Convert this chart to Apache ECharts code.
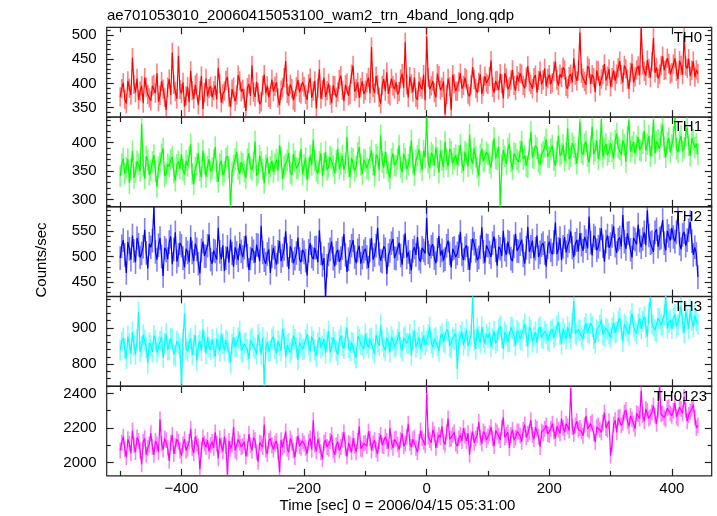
<!DOCTYPE html>
<html>
<head>
<meta charset="utf-8">
<script src="https://cdn.jsdelivr.net/npm/echarts@6/dist/echarts.min.js"></script>
<style>
html,body{margin:0;padding:0;background:#fff;}
#chart{width:717px;height:516px;}
</style>
</head>
<body>
<div id="chart"></div>
<script>
// ---- data (counts/sec, one value every 2.5 s starting at t = -500 s) ----
const T_START = -500;
const T_STEP = 2.5;

const th0 = [
372,389,401,367,358,405,390,376,453,398,381,410,366,384,395,359,412,392,377,370,
364,395,398,380,421,362,375,404,388,371,345,392,409,376,464,398,383,368,457,387,
379,402,352,374,393,361,426,385,368,397,401,356,385,415,347,381,410,373,389,394,
371,385,396,367,432,399,360,378,384,406,413,372,351,388,392,363,376,417,405,383,
388,369,343,391,399,374,437,382,372,403,381,357,362,396,418,380,395,371,367,408,
383,394,402,370,355,386,391,412,446,379,374,398,389,365,361,393,407,381,378,403,
393,377,366,399,411,370,384,405,348,390,429,368,387,412,372,385,400,376,359,396,
395,371,382,408,416,386,363,397,401,374,377,419,437,383,389,402,370,391,404,378,
386,401,412,379,475,392,380,415,397,371,358,396,409,384,423,378,374,410,395,388,
402,377,383,409,420,391,485,397,371,414,399,382,412,371,366,403,393,388,418,365,
497,412,388,395,405,381,371,420,416,386,392,404,336,377,410,393,345,418,399,384,
384,403,421,389,396,412,409,378,373,397,433,408,390,381,402,419,378,394,415,401,
398,414,447,392,381,405,406,386,420,399,369,421,411,388,393,407,428,396,385,416,
404,421,419,396,390,413,436,403,398,389,412,417,381,406,425,398,407,431,394,410,
418,398,401,425,445,407,396,419,412,433,428,394,389,414,419,402,452,417,405,426,
505,421,411,404,397,436,431,399,418,412,382,427,426,395,409,418,440,406,415,430,
393,412,427,405,419,432,446,418,402,437,430,409,388,423,441,402,414,428,436,417,
516,438,425,416,448,431,412,445,494,422,433,410,419,437,456,427,428,452,441,419,
422,440,452,425,409,447,437,418,500,436,431,451,415,427,446,413,428,420
];
const th1 = [
341,362,372,345,356,371,329,353,385,338,348,367,362,350,433,359,337,376,369,343,
351,366,378,349,322,357,364,379,390,341,346,362,358,370,375,347,333,361,367,354,
380,352,344,368,359,374,397,345,327,356,362,381,351,339,386,363,340,358,371,349,
355,369,392,350,331,362,368,343,349,372,376,357,290,348,360,371,383,354,345,366,
363,349,338,371,381,356,352,365,402,342,347,377,366,353,329,360,374,345,357,368,
348,362,370,351,395,374,336,358,361,369,382,347,343,380,367,355,354,366,389,344,
360,373,334,355,377,361,405,368,350,346,366,381,341,363,384,352,357,375,372,359,
346,368,389,354,363,377,352,364,410,358,339,373,371,350,358,382,392,361,345,370,
368,355,352,374,386,362,341,379,375,351,413,366,356,384,364,349,337,371,381,360,
359,371,395,357,348,380,372,353,361,375,404,364,343,369,377,388,366,352,386,374,
445,365,355,382,378,360,391,374,347,386,369,357,402,371,358,389,384,363,372,378,
361,377,396,365,350,384,381,358,414,372,363,390,375,356,342,379,389,367,368,383,
379,364,356,385,408,372,371,393,290,360,387,376,362,389,398,367,353,381,380,370,
366,385,402,371,377,359,357,388,419,374,372,395,390,366,361,380,384,392,406,375,
374,388,395,369,359,384,412,377,381,396,368,382,425,371,376,399,392,380,363,391,
437,383,379,397,402,376,365,392,428,380,386,404,371,387,441,375,390,398,378,385,
399,385,372,403,416,391,388,378,404,396,366,410,439,384,393,401,381,394,410,387,
385,399,421,386,397,412,376,394,440,381,402,405,389,415,431,392,374,400,408,383,
396,410,443,389,383,402,412,385,391,413,426,395,377,408,405,391,398,380
];
const th2 = [
497,520,532,503,468,528,515,494,541,511,489,536,523,498,506,519,552,507,477,525,
518,531,597,509,494,522,536,500,462,517,512,495,528,539,485,514,547,490,503,526,
521,497,479,515,508,489,538,508,491,525,514,486,467,512,529,501,500,521,543,494,
486,512,510,494,556,509,495,522,472,497,519,488,533,506,480,518,507,493,525,510,
499,517,541,502,474,496,516,510,488,523,522,491,560,508,493,486,505,514,468,500,
517,498,484,509,530,491,502,515,549,503,476,520,511,487,496,507,537,495,489,513,
508,492,463,511,526,500,495,517,518,489,551,506,483,497,422,482,504,514,529,496,
481,507,513,490,497,516,544,503,470,495,509,521,532,499,487,512,521,486,498,510,
515,499,478,512,536,494,503,521,556,505,492,490,520,514,466,503,511,526,534,497,
496,515,527,502,484,520,545,498,509,489,473,511,518,503,538,496,490,517,512,506,
575,508,501,519,524,497,487,513,540,502,512,492,495,521,531,506,479,515,517,499,
506,520,548,504,493,516,522,497,474,511,535,525,511,493,498,518,557,509,488,522,
521,508,499,526,539,512,482,519,515,501,550,514,503,529,527,496,491,520,544,511,
510,524,533,502,486,517,558,509,519,531,497,515,541,499,508,522,526,507,480,518,
529,512,504,528,566,505,515,536,493,519,538,508,521,530,549,517,499,525,532,510,
545,523,511,538,530,516,578,527,502,541,536,512,519,533,555,520,490,529,541,517,
524,540,559,521,507,533,537,519,581,529,515,545,546,513,498,536,533,524,562,531,
518,534,547,522,590,541,526,528,509,547,553,519,535,537,571,526,512,550,540,531,
556,538,529,547,585,525,514,542,548,521,532,551,567,530,503,518,505,460
];
const th3 = [
838,861,872,843,815,877,856,829,889,852,827,868,944,835,848,881,866,846,803,859,
851,834,879,866,832,848,862,875,818,857,884,839,841,871,869,826,822,863,857,845,
746,868,940,842,835,859,871,826,853,880,810,851,864,837,896,862,829,874,847,840,
868,844,821,870,854,836,883,858,838,866,862,831,805,855,875,847,849,872,891,838,
833,856,859,840,814,867,872,849,843,828,881,862,826,873,745,844,861,835,838,869,
876,843,829,864,852,837,897,871,819,853,858,832,842,879,868,846,812,860,855,841,
841,867,883,851,835,876,864,839,822,858,874,845,850,869,830,862,891,833,846,874,
862,838,826,866,879,851,843,873,901,846,837,860,858,829,817,877,869,855,852,842,
884,857,845,870,871,843,829,881,862,851,908,864,848,838,873,859,834,876,866,848,
851,869,889,846,838,873,876,858,857,882,824,866,893,847,860,875,842,861,879,853,
864,881,902,859,847,870,873,851,836,877,884,862,858,896,890,849,845,873,868,885,
787,862,879,889,853,871,895,850,864,882,987,866,842,898,876,859,903,874,857,883,
872,887,848,870,891,858,865,896,905,874,842,889,880,861,862,902,898,876,851,893,
887,869,866,895,911,878,848,903,894,861,875,888,859,897,903,874,870,891,884,866,
862,891,897,873,878,905,916,882,856,898,885,869,903,887,871,912,975,884,880,896,
893,878,869,901,912,887,884,913,904,871,858,895,890,908,923,882,877,899,896,885,
873,899,914,886,889,917,928,895,863,910,905,891,882,921,940,903,892,884,911,927,
897,918,932,902,876,941,985,911,906,894,889,927,925,908,903,936,990,899,915,922,
898,926,937,904,909,931,962,913,887,945,924,898,950,920,903,935,919,910
];
const th0123 = [
2070,2115,2150,2080,2030,2135,2110,2055,2185,2100,2060,2145,2125,2070,1990,2120,2140,2045,2085,2105,
2170,2090,2045,2125,2105,2060,2250,2110,2075,2140,2130,2085,2010,2115,2160,2050,2095,2135,2120,2070,
2040,2105,2135,2070,2080,2120,2195,2085,2055,2150,2110,2095,1960,2075,2145,2110,2090,2130,2065,2100,
2120,2085,2175,2110,2025,2140,2100,2065,2150,2095,1930,2125,2080,2105,2205,2070,2060,2135,2115,2090,
2095,2120,2035,2080,2165,2100,2070,2145,2130,2060,2005,2115,2110,2090,2220,2075,2050,2125,2140,2100,
2075,2110,2125,2065,1945,2130,2090,2100,2180,2080,2060,2140,2115,2070,2030,2105,2155,2095,2085,2125,
2110,2085,2050,2120,2140,2075,2245,2105,2065,2135,2100,2060,2020,2115,2130,2090,2080,2125,2160,2070,
2045,2100,2120,2070,2090,2130,2175,2085,2035,2115,2105,2060,2140,2095,2060,2125,2210,2080,2075,2110,
2115,2095,2180,2140,2070,2110,2130,2075,2050,2125,2160,2100,2095,2150,2125,2080,2200,2120,2085,2135,
2140,2105,2075,2130,2170,2095,2110,2150,2225,2115,2090,2135,2145,2085,2060,2120,2185,2140,2120,2100,
2400,2150,2130,2115,2190,2165,2085,2130,2160,2145,2210,2120,2105,2175,2255,2135,2140,2160,2175,2110,
2095,2140,2160,2125,2200,2155,2125,2170,2045,2135,2180,2115,2140,2160,2235,2145,2110,2180,2165,2130,
2150,2170,2205,2140,2095,2185,2175,2155,2130,2200,2260,2145,2160,2175,2085,2160,2190,2130,2145,2180,
2180,2155,2120,2190,2220,2145,2165,2175,2245,2160,2135,2205,2195,2150,2090,2180,2170,2195,2215,2165,
2160,2195,2225,2180,2140,2210,2190,2170,2255,2200,2175,2225,2210,2185,2430,2205,2165,2215,2240,2190,
2200,2180,2155,2215,2270,2195,2185,2225,2235,2170,2120,2205,2215,2190,2175,2230,2290,2200,2190,2240,
2040,2110,2220,2245,2175,2260,2265,2215,2230,2290,2305,2240,2210,2270,2250,2225,2195,2285,2280,2255,
2415,2275,2240,2310,2300,2255,2265,2290,2330,2270,2225,2305,2440,2280,2285,2260,2250,2315,2320,2285,
2270,2300,2345,2265,2255,2320,2310,2285,2380,2305,2240,2275,2295,2310,2335,2260,2200,2215
];

// error-bar half lengths per band (counts/sec)
const errTH0 = 20, errTH1 = 19, errTH2 = 23, errTH3 = 29, errTH0123 = 46;

const panelNames = ['TH0','TH1','TH2','TH3','TH0123'];
const panelValues = [th0, th1, th2, th3, th0123];
const panelErrors = [errTH0, errTH1, errTH2, errTH3, errTH0123];

// axis ranges and tick labels
const yRanges = [[330,516],[287,445],[422,597],[739,987],[1923,2443]];
const yMajorTicks = [[350,400,450,500],[300,350,400],[450,500,550],[800,900],[2000,2200,2400]];
const yMinorSteps = [10,10,10,20,100];
const xRange = [-522, 465];
const xMajorTicks = [-400,-200,0,200,400];
const xMinorTicks = [-500,-300,-100,100,300];

const titleText = 'ae701053010_20060415053100_wam2_trn_4band_long.qdp';
const xTitle = 'Time [sec] 0 = 2006/04/15 05:31:00';
const yTitle = 'Counts/sec';

// ---- styles ----
const colors = ['#ff0000','#00ff00','#0000ff','#00ffff','#ff00ff'];
const FONT = '"Liberation Sans", Arial, Helvetica, sans-serif';
const FRAME = '#222';
const gridTops = [27.3, 117.0, 206.7, 296.4, 386.0];
const gridH = 89.9;
const gridLeft = 106.7, gridW = 605;
const labelPos = [[702,37.6],[702,127.2],[702,217],[702,306.8],[707,396.5]];

function minorOf(p){
  const [lo, hi] = yRanges[p];
  const st = yMinorSteps[p];
  const out = [];
  for (let v = Math.ceil(lo/st)*st; v <= hi; v += st){
    if (yMajorTicks[p].indexOf(v) < 0) out.push(v);
  }
  return out;
}
const minus = v => String(v).replace('-', '\u2212');
const plain = v => String(v);

const grids = [], xAxes = [], yAxes = [], series = [], graphics = [];
for (let p = 0; p < 5; p++){
  grids.push({left: gridLeft, width: gridW, top: gridTops[p], height: gridH,
    show: true, borderColor: FRAME, borderWidth: 1.2, backgroundColor: 'transparent', containLabel: false});
  const xDefs = [
    {pos:'bottom', ticks: xMajorTicks, len: 7, label: p === 4},
    {pos:'bottom', ticks: xMinorTicks, len: 5, label: false},
    {pos:'top', ticks: xMajorTicks, len: 7, label: false},
    {pos:'top', ticks: xMinorTicks, len: 5, label: false}
  ];
  xDefs.forEach(d => xAxes.push({
    type: 'value', gridIndex: p, position: d.pos, min: xRange[0], max: xRange[1],
    axisLine: {show: false, onZero: false}, splitLine: {show: false},
    axisTick: {show: true, inside: true, length: d.len, customValues: d.ticks, lineStyle: {color: FRAME, width: 1.2}},
    axisLabel: {show: d.label, customValues: d.ticks, formatter: minus, fontSize: 15, color: '#000', fontFamily: FONT, margin: 5}
  }));
  const minors = minorOf(p);
  const yDefs = [
    {pos:'left', ticks: yMajorTicks[p], len: 7, label: true},
    {pos:'left', ticks: minors, len: 4, label: false},
    {pos:'right', ticks: yMajorTicks[p], len: 7, label: false},
    {pos:'right', ticks: minors, len: 4, label: false}
  ];
  yDefs.forEach(d => yAxes.push({
    type: 'value', gridIndex: p, position: d.pos, min: yRanges[p][0], max: yRanges[p][1],
    axisLine: {show: false, onZero: false}, splitLine: {show: false},
    axisTick: {show: true, inside: true, length: d.len, customValues: d.ticks, lineStyle: {color: FRAME, width: 1.2}},
    axisLabel: {show: d.label, customValues: d.ticks, formatter: plain, fontSize: 15, color: '#000', fontFamily: FONT, margin: 10}
  }));

  const vals = panelValues[p];
  const err = panelErrors[p];
  const lineData = vals.map((v, i) => [T_START + i * T_STEP, v]);
  const errData = vals.map((v, i) => [T_START + i * T_STEP, v, err]);
  series.push({
    type: 'custom', xAxisIndex: p*4, yAxisIndex: p*4, data: errData, silent: true, z: 2,
    renderItem: function(params, api){
      const t = api.value(0), v = api.value(1), e = api.value(2);
      const a = api.coord([t, v - e]);
      const b = api.coord([t, v + e]);
      const cs = params.coordSys;
      const clamp = y => Math.max(cs.y, Math.min(cs.y + cs.height, y));
      return {type: 'line', shape: {x1: a[0], y1: clamp(a[1]), x2: b[0], y2: clamp(b[1])},
        style: {stroke: colors[p], lineWidth: 1.6, opacity: 0.5}};
    }
  });
  series.push({
    type: 'line', xAxisIndex: p*4, yAxisIndex: p*4, data: lineData, showSymbol: false,
    symbol: 'none', lineStyle: {color: colors[p], width: 1.2}, z: 3, clip: true, silent: true
  });
  graphics.push({type: 'text', x: labelPos[p][0], y: labelPos[p][1], z: 100,
    style: {text: panelNames[p], font: '15px ' + FONT, fill: '#000', align: 'right', verticalAlign: 'middle'}});
}

graphics.push({type: 'text', x: 107, y: 15.5, style: {text: titleText, font: '15px ' + FONT, fill: '#000', align: 'left', verticalAlign: 'middle'}});
graphics.push({type: 'text', x: 397.5, y: 506, style: {text: xTitle, font: '15px ' + FONT, fill: '#000', align: 'center', verticalAlign: 'middle'}});
graphics.push({type: 'text', x: 41.7, y: 260, rotation: Math.PI/2, style: {text: yTitle, font: '15px ' + FONT, fill: '#000', align: 'center', verticalAlign: 'middle'}});

const chart = echarts.init(document.getElementById('chart'), null, {renderer: 'canvas'});
chart.setOption({
  animation: false,
  backgroundColor: '#fff',
  grid: grids, xAxis: xAxes, yAxis: yAxes, series: series, graphic: graphics
});
</script>
</body>
</html>
